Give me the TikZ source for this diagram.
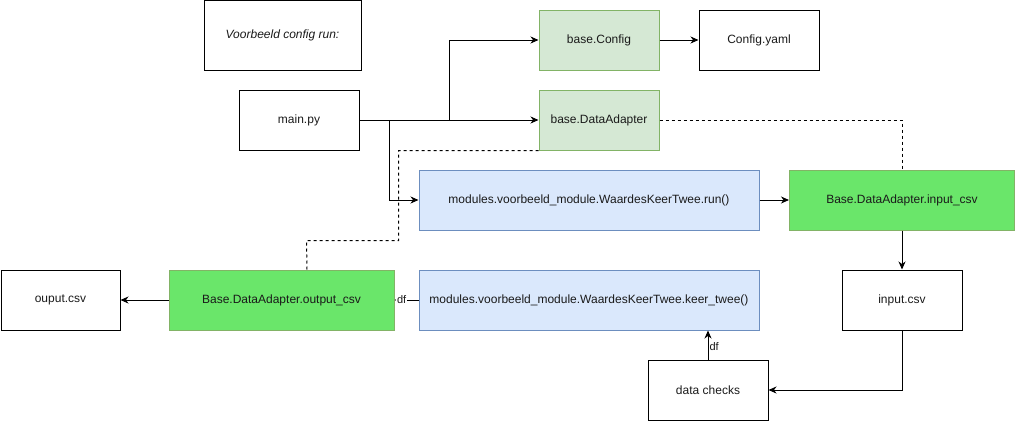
\documentclass[tikz,border=0pt]{standalone}
\usepackage{fontspec}
\setmainfont{Liberation Sans}
\usetikzlibrary{arrows.meta}
\definecolor{lgfill}{HTML}{D5E8D4}
\definecolor{lgline}{HTML}{82B366}
\definecolor{lbfill}{HTML}{DAE8FC}
\definecolor{lbline}{HTML}{6C8EBF}
\definecolor{bgfill}{HTML}{6AE66A}
\definecolor{txt}{HTML}{1A1A1A}
\tikzset{
  box/.style={draw, line width=1pt, minimum width=120pt, minimum height=60pt, inner sep=0pt, text=txt, font=\fontsize{12}{14}\selectfont},
  lgbox/.style={box, draw=lgline, fill=lgfill},
  lbbox/.style={box, draw=lbline, fill=lbfill, minimum width=340pt},
  bgbox/.style={box, draw=lgline, fill=bgfill, minimum width=225pt},
  arr/.style={line width=1pt, -{Stealth[length=8pt,width=7pt,inset=2.5pt]}},
  dline/.style={line width=1pt, dash pattern=on 3pt off 3pt},
  lbl/.style={fill=white, inner sep=1pt, font=\fontsize{11}{13}\selectfont, text=txt},
}
\begin{document}
\begin{tikzpicture}[x=1pt,y=-1pt]
\useasboundingbox (0,0) rectangle (1015,421);
\node[box, minimum width=157pt, minimum height=70pt, font=\fontsize{12}{14}\selectfont\itshape] (voorb) at (282.5,35) {Voorbeeld config run:};
\node[box] (main) at (299,120) {main.py};
\node[lgbox] (cfg) at (599,40) {base.Config};
\node[box] (yaml) at (759,40) {Config.yaml};
\node[lgbox] (da) at (599,120) {base.DataAdapter};
\node[lbbox] (run) at (589,200) {modules.voorbeeld\_module.WaardesKeerTwee.run()};
\node[bgbox] (inp) at (902,200) {Base.DataAdapter.input\_csv};
\node[box] (incsv) at (902,300) {input.csv};
\node[lbbox] (keer) at (589,300) {modules.voorbeeld\_module.WaardesKeerTwee.keer\_twee()};
\node[bgbox] (out) at (281.5,300) {Base.DataAdapter.output\_csv};
\node[box, minimum width=119pt] (ouput) at (60.5,300) {ouput.csv};
\node[box] (checks) at (708,390) {data checks};

\draw[arr] (main.east) -- (da.west);
\draw[arr] (main.east) -- ++(90,0) |- (cfg.west);
\draw[arr] (main.east) -- ++(30,0) |- (run.west);
\draw[arr] (cfg.east) -- (yaml.west);
\draw[dline] (da.east) -| (inp.north);
\draw[dline] (da.south west) -- ++(-140,0) -- ++(0,90) -- ++(-92,0) -- (out.north -| 307,0);
\draw[arr] (run.east) -- (inp.west);
\draw[arr] (inp.south) -- (incsv.north);
\draw[arr] (incsv.south) |- (checks.east);
\draw[arr] (checks.north) -- node[lbl, right, pos=0.45] {df} (checks.north |- keer.south);
\draw[arr] (keer.west) -- node[lbl, pos=0.7] {df} (out.east);
\draw[arr] (out.west) -- (ouput.east);
\end{tikzpicture}
\end{document}
